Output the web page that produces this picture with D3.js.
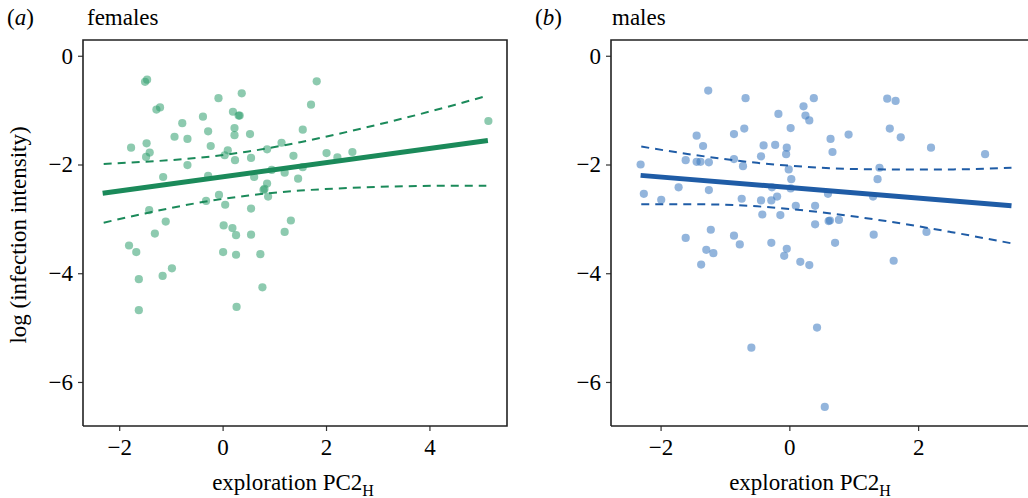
<!DOCTYPE html>
<html>
<head>
<meta charset="utf-8">
<script src="https://cdn.jsdelivr.net/npm/d3@7"></script>
<style>
    body { margin: 0; background: #fff; }
    text { font-family: 'Liberation Serif', 'Times New Roman', serif; fill: #000; }
</style>
</head>
<body>
<div id="chart"></div>
<script>
// Data
const femaleX = [-1.50, -1.46, -1.28, -1.21, -0.08, 0.37, 0.20, 0.33, 0.31, 1.82, 1.71, 5.14, -0.78, -0.38, -0.93, -0.68, -0.28, 0.23, 0.23, 0.53, 1.55, 1.14, -1.77, -1.47, -1.41, -1.48, -0.23, 0.10, 0.04, 0.24, 0.55, 0.86, 1.37, 2.01, 2.22, 2.51, -0.68, -1.15, -0.28, 0.61, 0.95, 1.20, 1.55, 1.46, 0.86, 0.81, 0.79, 0.88, -0.07, -0.32, 0.05, 0.55, -1.42, -1.10, 0.02, 0.19, 1.32, -1.31, 0.26, 0.55, 1.20, -1.81, -1.67, 0.01, 0.26, 0.73, -0.98, -1.16, -1.62, 0.77, -1.62, 0.27];
const femaleY = [-0.48, -0.44, -0.99, -0.95, -0.78, -0.69, -1.03, -1.10, -1.10, -0.47, -0.90, -1.20, -1.24, -1.12, -1.49, -1.53, -1.39, -1.33, -1.46, -1.44, -1.36, -1.60, -1.69, -1.61, -1.78, -1.86, -1.66, -1.74, -1.83, -1.92, -1.88, -1.72, -1.84, -1.79, -1.87, -1.77, -2.01, -2.23, -2.21, -2.23, -2.10, -2.15, -2.05, -2.26, -2.35, -2.45, -2.47, -2.59, -2.56, -2.67, -2.74, -2.81, -2.84, -3.05, -3.12, -3.17, -3.03, -3.27, -3.30, -3.29, -3.24, -3.49, -3.61, -3.61, -3.66, -3.65, -3.91, -4.05, -4.11, -4.26, -4.68, -4.62];

const maleX = [-1.26, -0.68, 0.38, 0.22, 0.25, 0.31, -0.17, 1.52, 1.65, 1.56, 1.73, 0.92, 0.64, 0.67, 0.02, -0.70, -0.86, -1.44, -1.34, -0.40, -0.22, -0.04, -0.05, -0.44, 2.20, 3.04, -2.31, -1.61, -1.44, -1.38, -1.25, -0.86, -0.72, -0.01, 0.03, 0.02, -0.27, -0.19, -0.28, -0.44, -0.74, -1.25, -1.72, -2.26, -1.99, 1.40, 1.37, 1.30, 0.60, 0.10, 0.40, -0.42, -0.14, 0.40, 0.61, 0.63, 0.77, -1.22, 2.13, 1.31, -1.61, -0.86, -0.77, -0.28, -0.04, -0.08, 0.71, 0.17, 0.31, -1.29, -1.18, -1.37, 1.62, 0.43, -0.59, 0.55];
const maleY = [-0.64, -0.78, -0.78, -0.93, -1.10, -1.19, -1.07, -0.79, -0.83, -1.34, -1.50, -1.45, -1.53, -1.77, -1.33, -1.34, -1.44, -1.47, -1.66, -1.65, -1.64, -1.69, -1.81, -1.85, -1.69, -1.81, -2.00, -1.92, -1.95, -1.95, -1.96, -1.90, -2.03, -2.09, -2.27, -2.44, -2.42, -2.59, -2.66, -2.66, -2.63, -2.47, -2.42, -2.54, -2.65, -2.06, -2.27, -2.59, -2.54, -2.76, -2.76, -2.92, -2.93, -3.10, -3.04, -3.03, -3.02, -3.20, -3.24, -3.29, -3.35, -3.31, -3.47, -3.44, -3.55, -3.68, -3.44, -3.79, -3.85, -3.57, -3.63, -3.84, -3.77, -5.00, -5.37, -6.46];

// Fitted line and confidence band
const femaleFitX = [-2.32, 5.13];
const femaleFitY = [-2.53, -1.56];
const femaleBandX = [-2.3, -1.5, -0.5, 0.5, 1.5, 2.5, 3.5, 4.5, 5.1];
const femaleUpper = [-1.99, -1.95, -1.88, -1.76, -1.59, -1.38, -1.15, -0.90, -0.74];
const femaleLower = [-3.07, -2.90, -2.71, -2.57, -2.48, -2.43, -2.40, -2.39, -2.39];

const maleFitX = [-2.31, 3.45];
const maleFitY = [-2.20, -2.76];
const maleBandX = [-2.3, -1.5, -0.5, 0.5, 1.5, 2.5, 3.45];
const maleUpper = [-1.67, -1.82, -1.97, -2.06, -2.09, -2.09, -2.06];
const maleLower = [-2.73, -2.73, -2.77, -2.88, -3.04, -3.24, -3.45];

const yTicks = [0, -2, -4, -6];
const femaleTicks = [-2, 0, 2, 4];
const maleTicks = [-2, 0, 2];

const chart = {
    totalWidth: 1028,
    totalHeight: 498,
    top: 40,
    bottom: 426
};

const svg = d3.select('#chart')
    .append('svg')
    .attr('width', chart.totalWidth)
    .attr('height', chart.totalHeight);

const yScale = d3.scaleLinear()
    .domain([0.29, -6.81])
    .range([chart.top, chart.bottom]);

const fmt = d => d3.format('d')(d);
const serif = "'Liberation Serif', 'Times New Roman', serif";

const panels = [
    {
        letter: 'a', title: 'females', letterX: 7, titleX: 87,
        left: 83, right: 507, domain: [-2.70, 5.50], ticks: femaleTicks, labelX: 293,
        xs: femaleX, ys: femaleY, fitX: femaleFitX, fitY: femaleFitY,
        bandX: femaleBandX, upper: femaleUpper, lower: femaleLower,
        dot: '#2f9e6d', line: '#1b8a5a', showFrameRight: true
    },
    {
        letter: 'b', title: 'males', letterX: 535, titleX: 612,
        left: 611, right: 1031, domain: [-2.77, 3.753], ticks: maleTicks, labelX: 810,
        xs: maleX, ys: maleY, fitX: maleFitX, fitY: maleFitY,
        bandX: maleBandX, upper: maleUpper, lower: maleLower,
        dot: '#3a78c0', line: '#1f5ca6', showFrameRight: false
    }
];

panels.forEach(p => {
    const xScale = d3.scaleLinear()
        .domain(p.domain)
        .range([p.left, p.right]);

    const g = svg.append('g');

    // panel letter and title
    const head = g.append('text')
        .attr('x', p.letterX)
        .attr('y', 25)
        .style('font-size', '23px');
    head.append('tspan').text('(');
    head.append('tspan').style('font-style', 'italic').text(p.letter);
    head.append('tspan').text(')');

    g.append('text')
        .attr('x', p.titleX)
        .attr('y', 25)
        .style('font-size', '23px')
        .text(p.title);

    // axes
    const yAxis = d3.axisLeft(yScale)
        .tickValues(yTicks)
        .tickSize(5)
        .tickPadding(5)
        .tickFormat(fmt);

    g.append('g')
        .attr('transform', `translate(${p.left}, 0)`)
        .call(yAxis)
        .attr('font-family', serif)
        .call(a => a.select('.domain').remove())
        .call(a => a.selectAll('line').attr('stroke', '#333').attr('stroke-width', 1.2))
        .call(a => a.selectAll('text')
            .style('font-size', '23px')
            .style('font-family', serif)
            .attr('fill', '#000'));

    const xAxis = d3.axisBottom(xScale)
        .tickValues(p.ticks)
        .tickSize(5)
        .tickPadding(8)
        .tickFormat(fmt);

    g.append('g')
        .attr('transform', `translate(0, ${chart.bottom})`)
        .call(xAxis)
        .attr('font-family', serif)
        .call(a => a.select('.domain').remove())
        .call(a => a.selectAll('line').attr('stroke', '#333').attr('stroke-width', 1.2))
        .call(a => a.selectAll('text')
            .style('font-size', '23px')
            .style('font-family', serif)
            .attr('fill', '#000'));

    // x label with subscript
    const xl = g.append('text')
        .attr('x', p.labelX)
        .attr('y', 490)
        .attr('text-anchor', 'middle')
        .style('font-size', '23px');
    xl.append('tspan').text('exploration PC2');
    xl.append('tspan')
        .attr('dy', 6)
        .style('font-size', '16px')
        .text('H');

    // points
    const pts = p.xs.map((x, i) => ({ x: x, y: p.ys[i] }));
    g.append('g')
        .selectAll('circle')
        .data(pts)
        .enter()
        .append('circle')
        .attr('cx', d => xScale(d.x))
        .attr('cy', d => yScale(d.y))
        .attr('r', 4.1)
        .attr('fill', p.dot)
        .attr('fill-opacity', 0.55);

    // confidence band
    const curve = d3.line()
        .curve(d3.curveMonotoneX)
        .x(d => xScale(d[0]))
        .y(d => yScale(d[1]));

    [p.upper, p.lower].forEach(band => {
        g.append('path')
            .attr('d', curve(p.bandX.map((x, i) => [x, band[i]])))
            .attr('fill', 'none')
            .attr('stroke', p.line)
            .attr('stroke-width', 2)
            .attr('stroke-dasharray', '8,6');
    });

    // fitted line
    g.append('path')
        .attr('d', curve(p.fitX.map((x, i) => [x, p.fitY[i]])))
        .attr('fill', 'none')
        .attr('stroke', p.line)
        .attr('stroke-width', 5);

    // frame
    const frame = d3.path();
    frame.moveTo(p.left, chart.bottom);
    frame.lineTo(p.left, chart.top);
    frame.lineTo(p.right, chart.top);
    if (p.showFrameRight) frame.lineTo(p.right, chart.bottom);
    else frame.moveTo(p.right, chart.bottom);
    frame.lineTo(p.left, chart.bottom);

    g.append('path')
        .attr('d', frame.toString())
        .attr('fill', 'none')
        .attr('stroke', '#222')
        .attr('stroke-width', 1.6);
});

// shared y label
svg.append('text')
    .attr('transform', 'translate(26, 235) rotate(-90)')
    .attr('text-anchor', 'middle')
    .style('font-size', '23px')
    .text('log (infection intensity)');
</script>
</body>
</html>
